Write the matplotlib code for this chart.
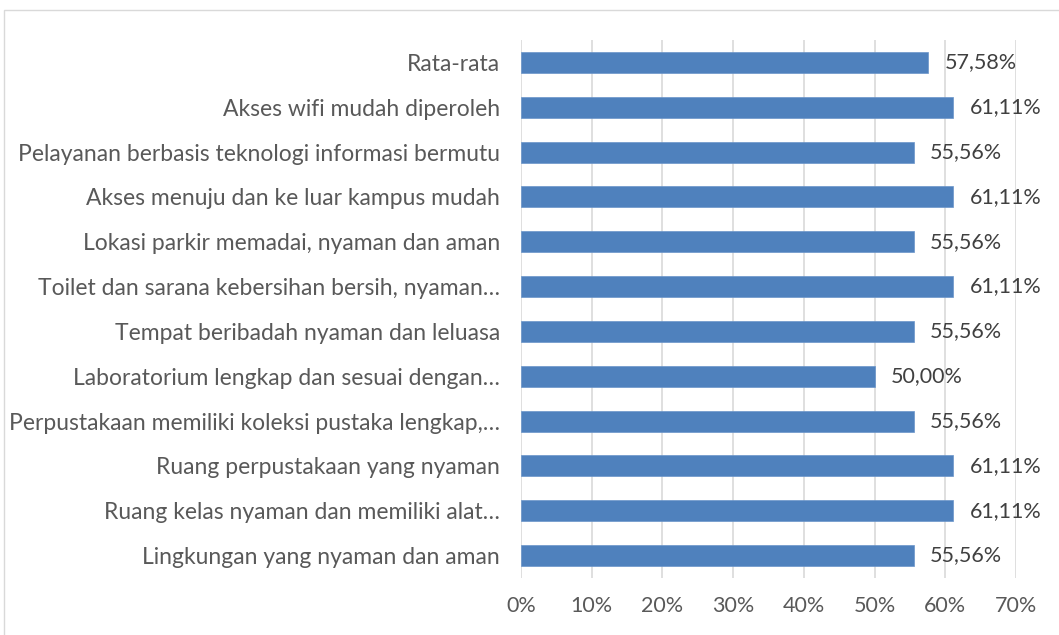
import matplotlib.pyplot as plt
from matplotlib.patches import Rectangle

# categories from bottom to top
categories = [
    "Lingkungan yang nyaman dan aman",
    "Ruang kelas nyaman dan memiliki alat\u2026",
    "Ruang perpustakaan yang nyaman",
    "Perpustakaan memiliki koleksi pustaka lengkap,\u2026",
    "Laboratorium lengkap dan sesuai dengan\u2026",
    "Tempat beribadah nyaman dan leluasa",
    "Toilet dan sarana kebersihan bersih, nyaman\u2026",
    "Lokasi parkir memadai, nyaman dan aman",
    "Akses menuju dan ke luar kampus mudah",
    "Pelayanan berbasis teknologi informasi bermutu",
    "Akses wifi mudah diperoleh",
    "Rata-rata",
]
values = [55.56, 61.11, 61.11, 55.56, 50.00, 55.56, 61.11, 55.56, 61.11, 55.56, 61.11, 57.58]
xticks = [0, 10, 20, 30, 40, 50, 60, 70]

plt.rcParams['font.family'] = ['Lato', 'DejaVu Sans']
txt = '#595959'

fig = plt.figure(figsize=(10.59, 6.35), dpi=100)
fig.patches.append(Rectangle((4 / 1059, -0.1), 1.2, 1 - 10 / 635 + 0.1, transform=fig.transFigure,
                             fill=False, edgecolor='#d9d9d9', linewidth=1))
ax = fig.add_axes([521 / 1059, 1 - 578 / 635, (1016 - 521) / 1059, 538 / 635])

y = range(len(categories))
ax.barh(y, values, height=0.47, color='#4f81bd', edgecolor='#6a95c9', linewidth=0.5, zorder=3)
for yi, v in zip(y, values):
    ax.text(v + 2.3, yi, f"{v:.2f}%".replace('.', ','), va='center', ha='left',
            fontsize=15.5, color='#404040')

ax.set_xlim(0, 70)
ax.set_ylim(-0.5, len(categories) - 0.5)
ax.set_xticks(xticks)
ax.set_xticklabels([f"{t}%" for t in xticks], fontsize=15.5, color=txt)
ax.set_yticks(list(y))
ax.set_yticklabels(categories, fontsize=16.5, color=txt)
ax.tick_params(length=0, pad=15)
ax.tick_params(axis='x', pad=13)
ax.xaxis.grid(True, color='#d9d9d9', linewidth=1.2, zorder=0)
for s in ax.spines.values():
    s.set_visible(False)

fig.savefig('out.png', dpi=100)
